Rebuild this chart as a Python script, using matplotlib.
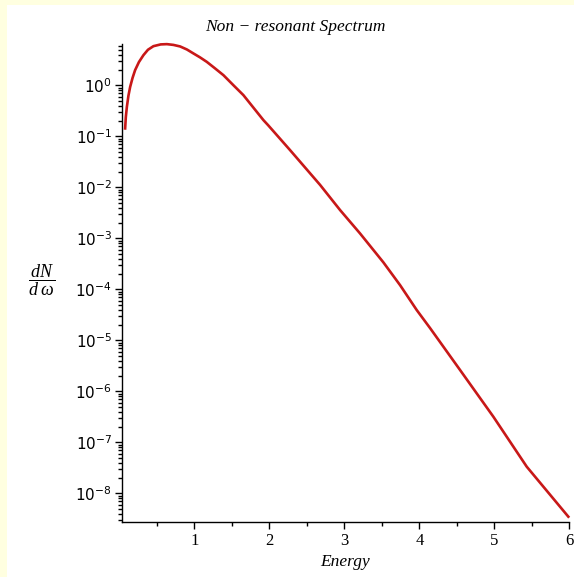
import matplotlib
matplotlib.use("Agg")
import matplotlib.pyplot as plt
from matplotlib.patches import Rectangle
from matplotlib.ticker import MultipleLocator, FixedLocator

# values
energy = [0.076, 0.085, 0.099, 0.12, 0.143, 0.175, 0.209, 0.26, 0.32, 0.38,
          0.453, 0.55, 0.632, 0.72, 0.809, 0.9, 0.987, 1.075, 1.165, 1.27,
          1.387, 1.52, 1.653, 1.8, 1.92, 1.983, 2.276, 2.676, 2.943, 3.209,
          3.52, 3.743, 3.965, 4.143, 4.543, 4.987, 5.432, 5.987]
dN = [0.1435, 0.240, 0.380, 0.631, 0.940, 1.41, 2.00, 2.88, 3.93, 5.01,
      5.89, 6.38, 6.46, 6.24, 5.82, 5.07, 4.24, 3.55, 2.90, 2.19,
      1.59, 1.01, 0.646, 0.347, 0.209, 0.166, 0.0538, 0.0112, 3.59e-3, 1.25e-3,
      3.39e-4, 1.21e-4, 3.93e-5, 1.74e-5, 2.62e-6, 3.18e-7, 3.33e-8, 3.48e-9]
y_ticks = [1e-8, 1e-7, 1e-6, 1e-5, 1e-4, 1e-3, 1e-2, 1e-1, 1e0]
x_ticks = [1, 2, 3, 4, 5, 6]

plt.rcParams['mathtext.fontset'] = 'custom'
plt.rcParams['mathtext.it'] = 'Liberation Serif:italic'
plt.rcParams['mathtext.rm'] = 'Liberation Serif'

W, H = 574, 577
fig = plt.figure(figsize=(W / 100, H / 100), dpi=100)
fig.patch.set_facecolor('#ffffe0')
# white panel inside the yellow frame
fig.patches.append(Rectangle((7 / W, 0), 1 - 7 / W, 1 - 5 / H, transform=fig.transFigure,
                             facecolor='white', edgecolor='none', zorder=-5))

ax = fig.add_axes([121.7 / W, 1 - 522.3 / H, (569.3 - 121.7) / W, (522.3 - 44) / H])
ax.set_zorder(2)
ax.set_facecolor('none')
ax.plot(energy, dN, color='#c81818', lw=1.9, solid_joinstyle='round', clip_on=False)

ax.set_yscale('log')
ax.set_xlim(0.03, 6.0)
ax.set_ylim(2.7e-9, 6.5)

for s in ['top', 'right']:
    ax.spines[s].set_visible(False)
for s in ['left', 'bottom']:
    ax.spines[s].set_linewidth(1.0)

ax.set_xticks(x_ticks)
ax.xaxis.set_minor_locator(MultipleLocator(0.5))
ax.set_yticks(y_ticks)
minor = [m * t for t in [1e-9] + y_ticks for m in range(2, 10)]
ax.yaxis.set_minor_locator(FixedLocator(minor))
ax.tick_params(which='major', length=5, width=1, direction='out')
ax.tick_params(which='minor', length=3, width=1, direction='out')
ax.tick_params(axis='y', labelsize=11, pad=2)
ax.tick_params(axis='x', labelsize=12, pad=3)
for lab in ax.get_xticklabels():
    lab.set_family('Liberation Serif')

fig.text(295 / W, 1 - 27 / H, 'Non \u2212 resonant Spectrum', ha='center', va='center',
         family='Liberation Serif', style='italic', fontsize=12.5)
ax.set_xlabel('Energy', family='Liberation Serif', style='italic', fontsize=12.5, labelpad=3)
fig.text(41.5 / W, 1 - 280 / H, r'$\dfrac{dN}{d\;\omega}$', ha='center', va='center',
         fontsize=13)

fig.savefig('out.png', dpi=100, facecolor=fig.get_facecolor())
